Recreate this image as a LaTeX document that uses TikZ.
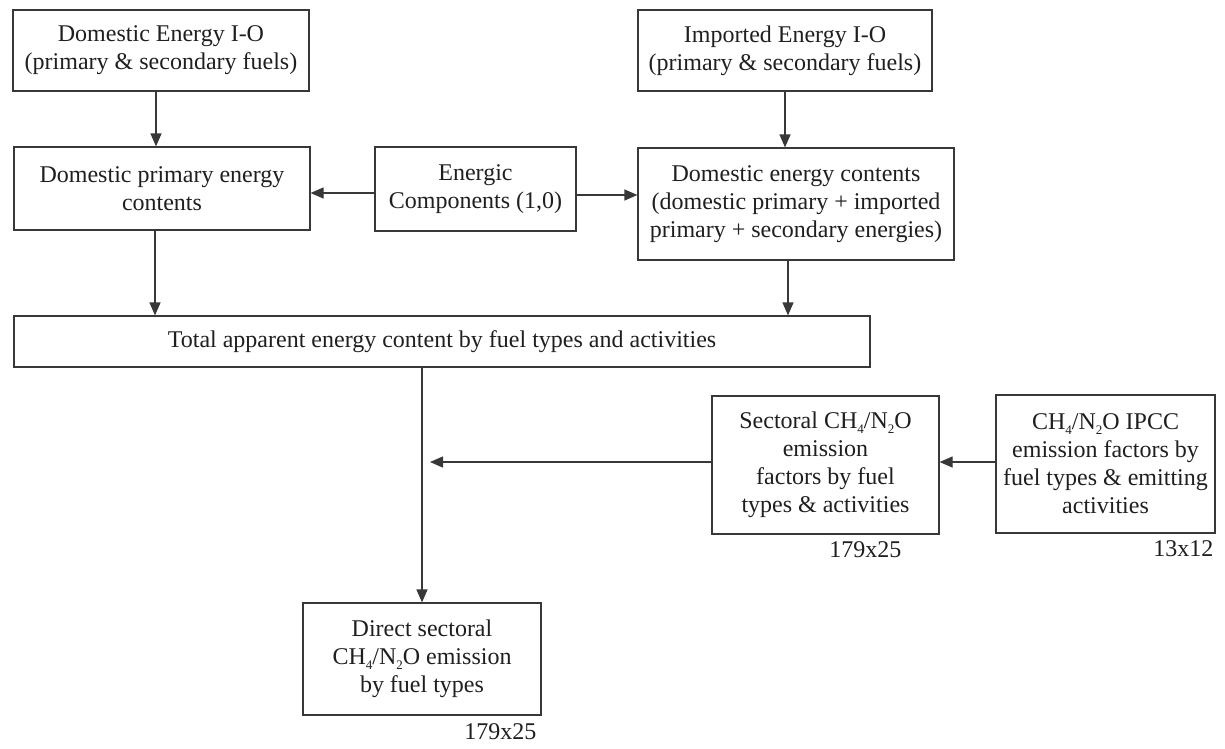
\documentclass[tikz,border=0pt]{standalone}
\usepackage{fontspec}
\setmainfont{Liberation Serif}
\usetikzlibrary{arrows.meta,calc}
\definecolor{linec}{gray}{0.22}
\definecolor{txt}{gray}{0.12}
\newcommand\mysub[1]{\raisebox{-0.45ex}{\fontsize{13}{13}\selectfont #1}}
\begin{document}
\begin{tikzpicture}[x=1pt,y=-1pt,
  box/.style={draw=linec, line width=1.2pt, align=center, inner sep=0pt, text=txt,
    font=\fontsize{24}{28}\selectfont},
  arr/.style={draw=linec, line width=1.2pt, -{Triangle[length=13pt,width=11pt]}},
  lbl/.style={font=\fontsize{24}{28}\selectfont, inner sep=0pt, text=txt}]
\useasboundingbox (0,0) rectangle (1225,748);

\node[box, minimum width=296pt, minimum height=81pt] (dio) at (161,50.5)
  {Domestic Energy I-O\\(primary \& secondary fuels)};
\node[box, minimum width=294pt, minimum height=81pt] (imp) at (785,50.5)
  {Imported Energy I-O\\(primary \& secondary fuels)};
\node[box, minimum width=296pt, minimum height=83pt] (dpec) at (162,188.5)
  {Domestic primary energy\\contents};
\node[box, minimum width=201pt, minimum height=84pt] (ec) at (475.5,189)
  {Energic\\Components (1,0)};
\node[box, minimum width=316pt, minimum height=112pt] (dec) at (796,204)
  {Domestic energy contents\\(domestic primary + imported\\primary + secondary energies)};
\node[box, minimum width=856pt, minimum height=51pt] (tot) at (442,341.5)
  {Total apparent energy content by fuel types and activities};
\node[box, minimum width=227pt, minimum height=138pt] (sect) at (825.5,465)
  {Sectoral CH\mysub{4}/N\mysub{2}O\\emission\\factors by fuel\\types \& activities};
\node[box, minimum width=219pt, minimum height=138pt] (ipcc) at (1105.5,464)
  {CH\mysub{4}/N\mysub{2}O IPCC\\emission factors by\\fuel types \& emitting\\activities};
\node[box, minimum width=238pt, minimum height=112pt] (dir) at (422,659)
  {Direct sectoral\\CH\mysub{4}/N\mysub{2}O emission\\by fuel types};

\node[lbl, anchor=north east] (l1) at ($(sect.south east)+(-38,7)$) {179x25};
\node[lbl, anchor=north east] (l2) at ($(ipcc.south east)+(-2,7)$) {13x12};
\node[lbl, anchor=north east] (l3) at ($(dir.south east)+(-5,8)$) {179x25};

\coordinate (a1) at ($(dio.south)+(-5,0)$);
\coordinate (a2) at ($(ec.west)+(0,4)$);
\coordinate (a3) at ($(ec.east)+(0,6)$);
\coordinate (a4) at ($(dpec.south)+(-7,0)$);
\coordinate (a5) at ($(dec.south)+(-8,0)$);
\coordinate (a6) at ($(sect.west)+(0,-3)$);
\coordinate (a7) at ($(sect.west -| dir.north)+(8,-3)$);
\coordinate (a8) at ($(ipcc.west)+(0,-2)$);

\draw[arr] (a1) -- (a1 |- dpec.north);
\draw[arr] (imp.south) -- (imp.south |- dec.north);
\draw[arr] (a2) -- (a2 -| dpec.east);
\draw[arr] (a3) -- (a3 -| dec.west);
\draw[arr] (a4) -- (a4 |- tot.north);
\draw[arr] (a5) -- (a5 |- tot.north);
\draw[arr] (dir.north |- tot.south) -- (dir.north);
\draw[arr] (a6) -- (a7);
\draw[arr] (a8) -- (a8 -| sect.east);
\end{tikzpicture}
\end{document}
